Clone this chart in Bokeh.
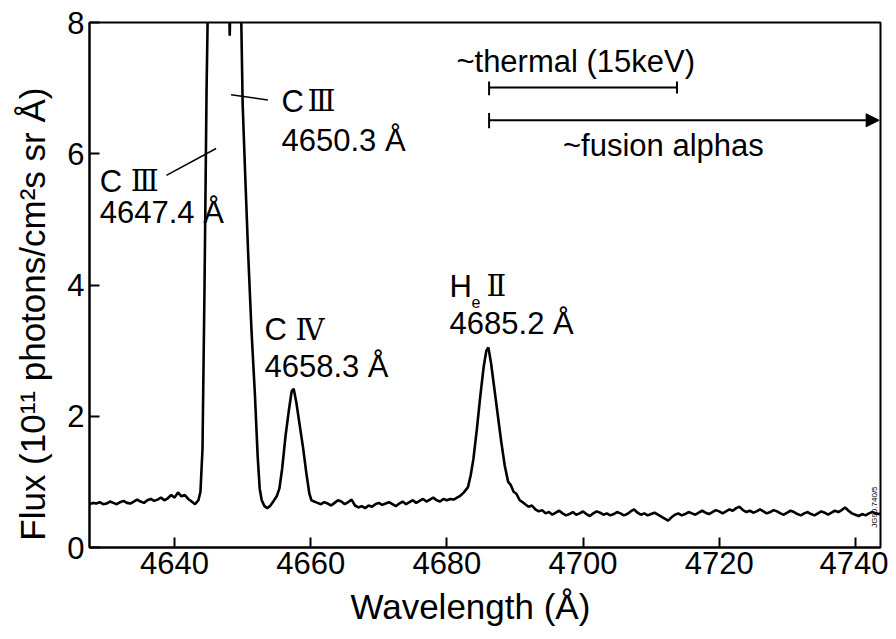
from math import pi
from bokeh.plotting import figure
from bokeh.models import Range1d, FixedTicker, Arrow, NormalHead, Label
from bokeh.core.properties import value
from bokeh.embed import file_html
from bokeh.resources import INLINE

# ---------------- data ----------------
base_left_wl = [4627.5, 4628.0, 4628.5, 4629.0, 4629.5, 4630.0, 4630.5, 4631.0, 4631.5,
                4632.0, 4632.5, 4633.0, 4633.5, 4634.0, 4634.5, 4635.0, 4635.5, 4636.0,
                4636.5, 4637.0, 4637.5, 4638.0, 4638.5, 4639.0, 4639.5, 4640.0, 4640.5,
                4641.0, 4641.5, 4642.0, 4642.5, 4643.0, 4643.5]
base_left_flux = [0.66, 0.68, 0.67, 0.69, 0.66, 0.67, 0.70, 0.68, 0.66,
                  0.69, 0.71, 0.68, 0.67, 0.70, 0.73, 0.70, 0.68, 0.72,
                  0.74, 0.71, 0.73, 0.76, 0.72, 0.75, 0.80, 0.76, 0.84,
                  0.78, 0.80, 0.74, 0.70, 0.66, 0.72]

ciii_wl = [4643.8, 4644.1, 4644.4, 4644.7, 4645.0, 4645.5, 4646.5, 4647.4, 4647.8,
           4648.0, 4648.1, 4648.2, 4648.5, 4649.3, 4649.8, 4650.0, 4650.4, 4650.8,
           4651.3, 4651.8, 4652.2, 4652.5, 4652.8, 4653.2, 4653.6, 4654.0, 4654.5,
           4655.0, 4655.4]
ciii_flux = [0.85, 1.5, 4.0, 7.0, 9.0, 13.0, 16.0, 18.0, 12.0,
             8.3, 7.8, 8.3, 12.0, 14.0, 8.0, 6.75, 5.6, 4.5,
             3.3, 2.33, 1.4, 0.9, 0.72, 0.63, 0.60, 0.63, 0.70,
             0.78, 0.90]

civ_wl = [4655.8, 4656.3, 4656.8, 4657.2, 4657.5, 4657.9, 4658.4, 4658.9, 4659.4,
          4659.8, 4660.1]
civ_flux = [1.2, 1.7, 2.1, 2.38, 2.42, 2.2, 1.85, 1.5, 1.1,
            0.82, 0.72]

base_mid_wl = [4660.5, 4661.0, 4661.5, 4662.0, 4662.5, 4663.0, 4663.5, 4664.0, 4664.5,
               4665.0, 4665.5, 4666.0, 4666.5, 4667.0, 4667.5, 4668.0, 4668.5, 4669.0,
               4669.5, 4670.0, 4670.5, 4671.0, 4671.5, 4672.0, 4672.5, 4673.0, 4673.5,
               4674.0, 4674.5, 4675.0, 4675.5, 4676.0, 4676.5, 4677.0, 4677.5, 4678.0,
               4678.5, 4679.0, 4679.5, 4680.0, 4680.5, 4681.0, 4681.5, 4682.0, 4682.5]
base_mid_flux = [0.70, 0.68, 0.66, 0.69, 0.67, 0.64, 0.68, 0.72, 0.70,
                 0.66, 0.69, 0.73, 0.64, 0.61, 0.63, 0.60, 0.64, 0.62,
                 0.66, 0.68, 0.65, 0.67, 0.69, 0.66, 0.63, 0.67, 0.70,
                 0.66, 0.69, 0.72, 0.68, 0.71, 0.74, 0.70, 0.73, 0.76,
                 0.72, 0.70, 0.74, 0.72, 0.74, 0.73, 0.76, 0.79, 0.84]

heii_wl = [4683.1, 4683.5, 4683.9, 4684.4, 4684.9, 4685.4, 4685.8, 4686.1, 4686.5,
           4687.0, 4687.5, 4688.0, 4688.5, 4689.0, 4689.4, 4689.8, 4690.2, 4690.7]
heii_flux = [0.92, 1.10, 1.35, 1.80, 2.30, 2.75, 3.00, 3.05, 2.80,
             2.40, 2.00, 1.60, 1.25, 1.00, 0.95, 0.85, 0.82, 0.72]

base_right_wl = [4691.0, 4691.5, 4692.0, 4692.5, 4693.0, 4693.5, 4694.0, 4694.5, 4695.0,
                 4695.5, 4696.0, 4696.5, 4697.0, 4697.5, 4698.0, 4698.5, 4699.0, 4699.5,
                 4700.0, 4700.5, 4701.0, 4701.5, 4702.0, 4702.5, 4703.0, 4703.5, 4704.0,
                 4704.5, 4705.0, 4705.5, 4706.0, 4706.5, 4707.0, 4707.5, 4708.0, 4708.5,
                 4709.0, 4709.5, 4710.0, 4710.5, 4711.0, 4711.5, 4712.0, 4712.5, 4713.0,
                 4713.5, 4714.0, 4714.5, 4715.0, 4715.5, 4716.0, 4716.5, 4717.0, 4717.5,
                 4718.0, 4718.5, 4719.0, 4719.5, 4720.0, 4720.5, 4721.0, 4721.5, 4722.0,
                 4722.5, 4723.0, 4723.5, 4724.0, 4724.5, 4725.0, 4725.5, 4726.0, 4726.5,
                 4727.0, 4727.5, 4728.0, 4728.5, 4729.0, 4729.5, 4730.0, 4730.5, 4731.0,
                 4731.5, 4732.0, 4732.5, 4733.0, 4733.5, 4734.0, 4734.5, 4735.0, 4735.5,
                 4736.0, 4736.5, 4737.0, 4737.5, 4738.0, 4738.5, 4739.0, 4739.5, 4740.0,
                 4740.5, 4741.0, 4741.5, 4742.0, 4742.5, 4743.0, 4743.5, 4744.0]
base_right_flux = [0.70, 0.66, 0.62, 0.64, 0.58, 0.55, 0.57, 0.52, 0.54,
                   0.50, 0.53, 0.56, 0.52, 0.49, 0.51, 0.54, 0.50, 0.52,
                   0.55, 0.51, 0.48, 0.52, 0.55, 0.53, 0.50, 0.52, 0.49,
                   0.51, 0.54, 0.52, 0.49, 0.51, 0.55, 0.58, 0.53, 0.50,
                   0.52, 0.49, 0.51, 0.53, 0.50, 0.47, 0.44, 0.41, 0.46,
                   0.50, 0.52, 0.49, 0.51, 0.54, 0.52, 0.50, 0.53, 0.56,
                   0.53, 0.51, 0.54, 0.57, 0.55, 0.52, 0.55, 0.58, 0.56,
                   0.60, 0.62, 0.57, 0.54, 0.56, 0.53, 0.55, 0.58, 0.55,
                   0.52, 0.54, 0.57, 0.55, 0.52, 0.50, 0.53, 0.56, 0.54,
                   0.51, 0.49, 0.52, 0.54, 0.51, 0.49, 0.52, 0.55, 0.53,
                   0.50, 0.53, 0.56, 0.54, 0.57, 0.61, 0.56, 0.52, 0.50,
                   0.48, 0.51, 0.49, 0.52, 0.54, 0.52, 0.51, 0.52]

x_ticks = [4640, 4660, 4680, 4700, 4720, 4740]
y_ticks = [0, 2, 4, 6, 8]

ion_elements = ["C", "C", "C", "H"]
ion_stages = ["\u2162", "\u2162", "\u2163", "\u2161"]
line_wavelengths = ["4647.4 \u00c5", "4650.3 \u00c5", "4658.3 \u00c5", "4685.2 \u00c5"]
range_labels = ["~thermal (15keV)", "~fusion alphas"]
x_title = "Wavelength (\u00c5)"
y_title = "Flux (10\u00b9\u00b9 photons/cm\u00b2s sr \u00c5)"

wavelength = base_left_wl + ciii_wl + civ_wl + base_mid_wl + heii_wl + base_right_wl
flux = base_left_flux + ciii_flux + civ_flux + base_mid_flux + heii_flux + base_right_flux

FONT = "Liberation Sans"
NUMFONT = "DejaVu Serif"
NBSP = "\u00a0"

p = figure(width=888, height=637, output_backend="svg", toolbar_location=None,
           x_range=Range1d(4627.5, 4743.7), y_range=Range1d(0, 8),
           min_border_left=89, min_border_right=8, min_border_top=22, min_border_bottom=90,
           background_fill_color="white", border_fill_color="white")

p.line(wavelength, flux, line_color="black", line_width=2.6)

# axes styling
for ax in (p.xaxis[0], p.yaxis[0]):
    ax.major_tick_in = 10
    ax.major_tick_out = 0
    ax.minor_tick_line_color = None
    ax.axis_line_width = 2
    ax.axis_line_color = "black"
    ax.major_tick_line_width = 2
    ax.major_tick_line_color = "black"
    ax.major_label_text_font = FONT
    ax.major_label_text_font_size = "31px"
    ax.major_label_text_color = "black"
    ax.axis_label_text_font = FONT
    ax.axis_label_text_font_size = "35px"
    ax.axis_label_text_font_style = "normal"
    ax.axis_label_text_color = "black"

p.xaxis.ticker = FixedTicker(ticks=x_ticks)
p.yaxis.ticker = FixedTicker(ticks=y_ticks)
p.xaxis.major_label_standoff = 4
p.yaxis.major_label_standoff = 5
# trailing no-break spaces shift the centred titles slightly, as in the reference
p.xaxis.axis_label = x_title + NBSP * 3
p.yaxis.axis_label = y_title + NBSP * 6
p.xaxis.axis_label_standoff = 10
p.yaxis.axis_label_standoff = 12
p.grid.visible = False
p.outline_line_color = "black"
p.outline_line_width = 2
p.outline_line_alpha = 1

# line identification labels
el_x = [4629.0, 4655.7, 4653.2, 4680.4]
el_y = [5.58, 6.80, 3.32, 3.98]
wl_y = [5.10, 6.20, 2.76, 3.42]
p.text(x=el_x, y=el_y, text=ion_elements, text_font=value(FONT), text_font_size="31px",
       text_baseline="middle", text_align="left", text_color="black")
p.text(x=el_x, y=el_y, text=ion_stages, x_offset=[31, 26, 31, 37],
       text_font=value(NUMFONT), text_font_size="29px",
       text_baseline="middle", text_align="left", text_color="black")
p.text(x=[4680.4], y=[3.74], text=["e"], x_offset=22, text_font=value(FONT),
       text_font_size="16px", text_baseline="middle", text_align="left", text_color="black")
p.text(x=el_x, y=wl_y, text=line_wavelengths, text_font=value(FONT), text_font_size="31px",
       text_baseline="middle", text_align="left", text_color="black")

# leader lines
p.segment(x0=[4638.8, 4648.3], y0=[5.67, 6.90], x1=[4646.1, 4653.7], y1=[6.08, 6.82],
          line_color="black", line_width=1.5)

# thermal / fusion ranges
p.text(x=[4681.4], y=[7.40], text=[range_labels[0]], text_font=value(FONT), text_font_size="31px",
       text_baseline="middle", text_align="left", text_color="black")
p.text(x=[4711.8], y=[6.12], text=[range_labels[1]], text_font=value(FONT), text_font_size="31px",
       text_baseline="middle", text_align="center", text_color="black")
p.segment(x0=[4686.2, 4686.2, 4713.8, 4686.2], y0=[7.01, 6.89, 6.92, 6.39],
          x1=[4713.8, 4686.2, 4713.8, 4686.2], y1=[7.01, 7.10, 7.10, 6.62],
          line_color="black", line_width=2)
p.add_layout(Arrow(end=NormalHead(size=13, fill_color="black", line_color="black"),
                   x_start=4686.2, y_start=6.51, x_end=4743.5, y_end=6.51,
                   line_color="black", line_width=2))

p.add_layout(Label(x=4743.7, y=0.30, text="JG90.740/5", angle=pi / 2, x_offset=-6,
                   text_font=FONT, text_font_size="8px", text_baseline="middle",
                   text_align="left", text_color="black"))

open("out.html", "w").write(file_html(p, INLINE))
